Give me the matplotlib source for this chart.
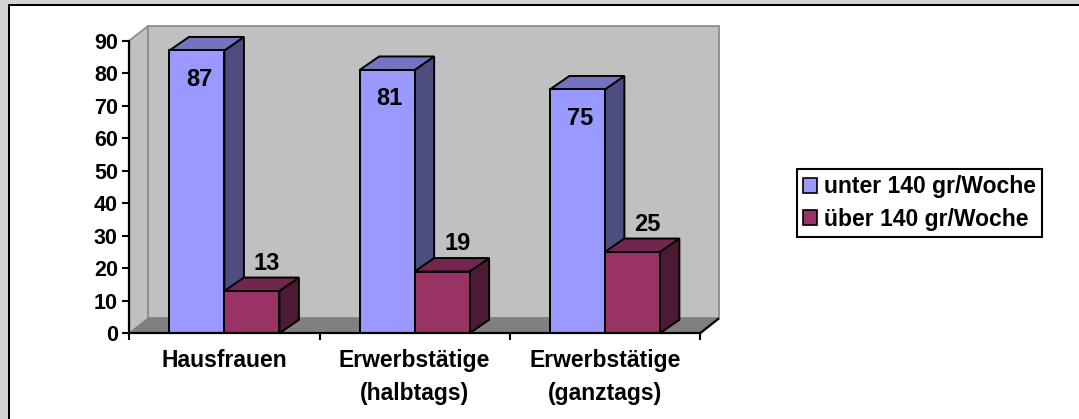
import matplotlib
matplotlib.use("Agg")
import matplotlib.pyplot as plt
from matplotlib.patches import Polygon, Rectangle, Patch
from matplotlib.lines import Line2D

# ---- data ----
categories = ["Hausfrauen", "Erwerbstätige\n(halbtags)", "Erwerbstätige\n(ganztags)"]
series_names = ["unter 140 gr/Woche", "über 140 gr/Woche"]
unter_140 = [87, 81, 75]
ueber_140 = [13, 19, 25]
y_ticks = [0, 10, 20, 30, 40, 50, 60, 70, 80, 90]

# ---- style ----
FONT = ["Liberation Sans", "DejaVu Sans"]
plt.rcParams["font.family"] = FONT
plt.rcParams["font.weight"] = "bold"

faces = ["#9999FF", "#993366"]
tops = ["#7373BF", "#73264D"]
sides = ["#4D4D80", "#4D1A33"]
WALL = "#C0C0C0"
FLOOR = "#808080"
WALL_EDGE = "#8C8C8C"

W, H, DPI = 1079, 419, 100
fig = plt.figure(figsize=(W / DPI, H / DPI), dpi=DPI)
fig.patch.set_facecolor("white")

# plot box (front plane of the 3-D chart)
left_px, right_px, top_px, bottom_px = 129.3, 700.0, 40.7, 333.3
ax = fig.add_axes([left_px / W, 1 - bottom_px / H,
                   (right_px - left_px) / W, (bottom_px - top_px) / H])
n = len(categories)
ymax = y_ticks[-1]
ax.set_xlim(0, n)
ax.set_ylim(0, ymax)
ax.patch.set_visible(False)

bbox = ax.get_window_extent()
px_x = bbox.width / n        # pixels per category
px_y = bbox.height / ymax    # pixels per value unit

# depth offsets (pixels -> data units)
wall_dx, wall_dy = 19 / px_x, 15 / px_y
bar_dx, bar_dy = 19.5 / px_x, 13.5 / px_y
bar_w = 55 / px_x

# walls and floor
left_wall = [(0, 0), (0, ymax), (wall_dx, ymax + wall_dy), (wall_dx, wall_dy)]
back_wall = [(wall_dx, wall_dy), (wall_dx, ymax + wall_dy),
             (n + wall_dx, ymax + wall_dy), (n + wall_dx, wall_dy)]
floor = [(0, 0), (n, 0), (n + wall_dx, wall_dy), (wall_dx, wall_dy)]
for pts in (left_wall, back_wall):
    ax.add_patch(Polygon(pts, closed=True, fc=WALL, ec=WALL_EDGE, lw=1.3,
                         clip_on=False, zorder=0.5))
ax.add_patch(Polygon(floor, closed=True, fc=FLOOR, ec=FLOOR, lw=1.0,
                     clip_on=False, zorder=0.6))
ax.add_line(Line2D([n, n + wall_dx], [0, wall_dy], color="black", lw=1.6,
                   clip_on=False, zorder=3, solid_capstyle="butt"))


def draw_bar(x0, v, k, z):
    x1 = x0 + bar_w
    side = [(x1, 0), (x1, v), (x1 + bar_dx, v + bar_dy), (x1 + bar_dx, bar_dy)]
    top = [(x0, v), (x1, v), (x1 + bar_dx, v + bar_dy), (x0 + bar_dx, v + bar_dy)]
    kw = dict(closed=True, ec="black", lw=1.4, joinstyle="miter",
              clip_on=False, zorder=z)
    ax.add_patch(Polygon(side, fc=sides[k], **kw))
    ax.add_patch(Polygon(top, fc=tops[k], **kw))
    ax.bar(x0, v, width=bar_w, align="edge", color=faces[k], edgecolor="black",
           linewidth=1.4, zorder=z + 0.1, clip_on=False)


label_offsets = [(2.5, -29), (15, 28)]   # pixel offsets of value labels
for i in range(n):
    for k, vals in enumerate((unter_140, ueber_140)):
        v = vals[i]
        x0 = i + 0.5 - bar_w + k * bar_w
        draw_bar(x0, v, k, 2 + k)
        ax.annotate(str(v), (x0 + bar_w / 2, v),
                    xytext=label_offsets[k], textcoords="offset pixels",
                    ha="center", va="center", fontsize=17,
                    fontweight="bold", zorder=10)

# axes
for s in ("top", "right"):
    ax.spines[s].set_visible(False)
for s in ("left", "bottom"):
    ax.spines[s].set_linewidth(1.6)
    ax.spines[s].set_zorder(4)
ax.set_yticks(y_ticks)
ax.set_yticklabels([str(t) for t in y_ticks])
ax.tick_params(axis="y", direction="out", length=5.2, width=1.5, pad=3,
               labelsize=15.5)
ax.set_xticks(range(n + 1))
ax.set_xticklabels([""] * (n + 1))
ax.set_xticks([i + 0.5 for i in range(n)], minor=True)
ax.set_xticklabels(categories, minor=True)
ax.tick_params(axis="x", which="major", direction="out", length=5, width=1.5)
ax.tick_params(axis="x", which="minor", length=0, pad=11, labelsize=16.5)
for t in ax.get_yticklabels():
    t.set_fontweight("bold")
for t in ax.get_xticklabels(minor=True):
    t.set_fontweight("bold")
    t.set_linespacing(1.56)

# legend
handles = [Patch(facecolor=faces[k], edgecolor="black", linewidth=1.2)
           for k in range(2)]
leg = fig.legend(handles, series_names, loc="upper left",
                 bbox_to_anchor=(796.7 / W, 1 - 169 / H), borderaxespad=0,
                 frameon=True, fancybox=False, edgecolor="black", framealpha=1,
                 handlelength=0.62, handleheight=0.62, handletextpad=0.3,
                 labelspacing=0.42, borderpad=0.27,
                 prop={"family": FONT, "weight": "bold", "size": 16.5})
leg.get_frame().set_linewidth(1.5)

# outer frame of the chart object
fig.add_artist(Rectangle((0, 0), 8 / W, 1, transform=fig.transFigure,
                         fc="#D3D3D3", ec="none"))
fig.add_artist(Rectangle((0, 1 - 4 / H), 1, 4 / H, transform=fig.transFigure,
                         fc="#D3D3D3", ec="none"))
fig.add_artist(Rectangle((8 / W, 0), 2 / W, 1 - 4 / H, transform=fig.transFigure,
                         fc="black", ec="none"))
fig.add_artist(Rectangle((8 / W, 1 - 6 / H), 1, 2 / H, transform=fig.transFigure,
                         fc="black", ec="none"))

fig.savefig("out.png", dpi=DPI, facecolor=fig.get_facecolor())
